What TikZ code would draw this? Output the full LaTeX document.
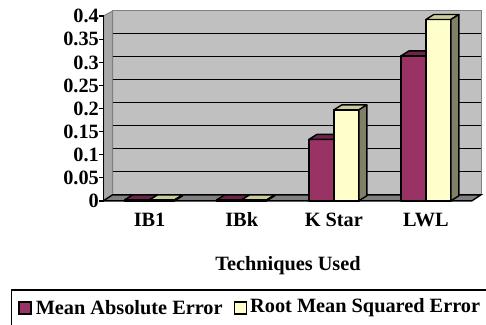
\documentclass[tikz,border=0pt]{standalone}
\usepackage{fontspec}
\setmainfont{Liberation Serif}
\usetikzlibrary{positioning}

\definecolor{wallgray}{HTML}{C0C0C0}
\definecolor{sidegray}{HTML}{A8A8A8}
\definecolor{floorgray}{HTML}{808080}
\definecolor{maefill}{HTML}{993366}
\definecolor{maetop}{HTML}{6E2449}
\definecolor{maeside}{HTML}{4D1933}
\definecolor{rmsefill}{HTML}{FFFFCC}
\definecolor{rmsetop}{HTML}{CCCC99}
\definecolor{rmseside}{HTML}{808066}

% one 3d bar: left edge, value, front, top, side
\newcommand{\errbar}[5]{%
  \pgfmathsetmacro{\bartop}{123.2+461.4*#2}
  \filldraw[bar, fill=#3] (#1,123.2) rectangle (#1+25,\bartop);
  \filldraw[bar, fill=#4] (#1,\bartop) -- ++(8,5) -- ++(25,0) -- ++(-8,-5) -- cycle;
  \filldraw[bar, fill=#5] (#1+25,123.2) -- ++(8,5) -- (#1+33,\bartop+5) -- (#1+25,\bartop) -- cycle;
}

\begin{document}
\begin{tikzpicture}[
  x=1pt, y=1pt,
  font=\fontsize{20.3}{23}\selectfont\bfseries,
  bar/.style={draw=black, line width=1.4pt, line join=round},
  grid/.style={black, line width=1.5pt},
  tick/.style={anchor=east, inner sep=0pt},
  catlabel/.style={anchor=base, inner sep=0pt},
  keybox/.style={draw=black, line width=1.2pt, minimum size=12pt, inner sep=0pt}
]
\clip (0,0) rectangle (486,324);

% walls and floor
\filldraw[fill=wallgray, draw=floorgray, line width=1pt] (112.5,129.2) rectangle (481,313);
\filldraw[fill=sidegray, draw=floorgray, line width=1pt] (103.5,123.2) -- (112.5,129.2) -- (112.5,313) -- (103.5,308) -- cycle;
\filldraw[fill=floorgray, draw=black, line width=1.4pt] (103.5,123.2) -- (472,123.2) -- (481,129.2) -- (112.5,129.2) -- cycle;

% grid lines on the back wall
\draw[grid] (112.5,152.3) -- (481,152.3);
\draw[grid] (112.5,175.3) -- (481,175.3);
\draw[grid] (112.5,198.4) -- (481,198.4);
\draw[grid] (112.5,221.5) -- (481,221.5);
\draw[grid] (112.5,244.6) -- (481,244.6);
\draw[grid] (112.5,267.6) -- (481,267.6);
\draw[grid] (112.5,290.7) -- (481,290.7);

% value axis
\draw[grid] (103.5,123.2) -- (103.5,308);
\draw[grid] (99,123.2) -- (103.5,123.2);
\draw[grid] (99,146.3) -- (103.5,146.3);
\draw[grid] (99,169.3) -- (103.5,169.3);
\draw[grid] (99,192.4) -- (103.5,192.4);
\draw[grid] (99,215.5) -- (103.5,215.5);
\draw[grid] (99,238.6) -- (103.5,238.6);
\draw[grid] (99,261.6) -- (103.5,261.6);
\draw[grid] (99,284.7) -- (103.5,284.7);
\draw[grid] (99,307.8) -- (103.5,307.8);
\node[tick] (v0) at (99,123.2) {0};
\node[tick] (v005) at (99,146.3) {0.05};
\node[tick] (v01) at (99,169.3) {0.1};
\node[tick] (v015) at (99,192.4) {0.15};
\node[tick] (v02) at (99,215.5) {0.2};
\node[tick] (v025) at (99,238.6) {0.25};
\node[tick] (v03) at (99,261.6) {0.3};
\node[tick] (v035) at (99,284.7) {0.35};
\node[tick] (v04) at (99,307.8) {0.4};

% bars
\errbar{124.6}{0.002}{maefill}{maetop}{maeside}
\errbar{149.6}{0.002}{rmsefill}{rmsetop}{rmseside}
\errbar{216.7}{0.002}{maefill}{maetop}{maeside}
\errbar{241.7}{0.002}{rmsefill}{rmsetop}{rmseside}
\errbar{308.8}{0.133}{maefill}{maetop}{maeside}
\errbar{333.8}{0.197}{rmsefill}{rmsetop}{rmseside}
\errbar{400.9}{0.314}{maefill}{maetop}{maeside}
\errbar{425.9}{0.393}{rmsefill}{rmsetop}{rmseside}

% categories
\node[catlabel] (ib1) at (149.6,97.3) {IB1};
\node[catlabel] (ibk) at (241.7,97.3) {IBk};
\node[catlabel] (kstar) at (333.8,97.3) {K Star};
\node[catlabel] (lwl) at (425.9,97.3) {LWL};
\node[catlabel] (techniques) at (288,54) {Techniques Used};

% legend
\draw[line width=1.2pt] (11.7,34) rectangle (500,-10);
\node[keybox, fill=maefill] (maekey) at (25,16) {};
\node[right=4pt of maekey, inner sep=0pt] (maetext) {Mean Absolute Error};
\node[keybox, fill=rmsefill, right=11pt of maetext] (rmsekey) {};
\node[right=3pt of rmsekey, inner sep=0pt] (rmsetext) {Root Mean Squared Error};
\end{tikzpicture}
\end{document}
